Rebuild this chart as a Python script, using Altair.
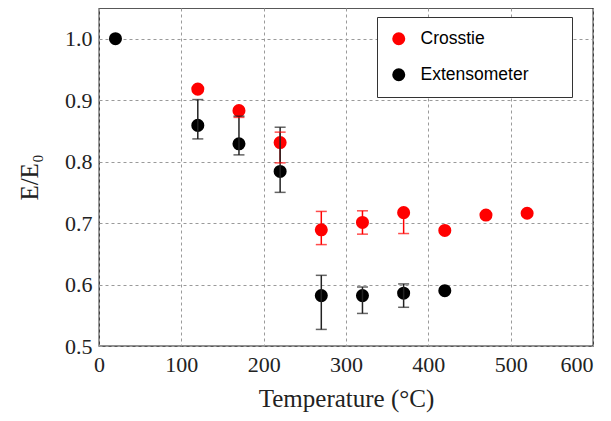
import altair as alt
import pandas as pd

# Extensometer series
ext_T = [20, 120, 170, 220, 270, 320, 370, 420]
ext_E = [1.000, 0.859, 0.829, 0.784, 0.582, 0.582, 0.586, 0.590]
ext_lo = [None, 0.837, 0.811, 0.750, 0.527, 0.553, 0.563, None]
ext_hi = [None, 0.901, 0.874, 0.856, 0.615, 0.596, 0.601, None]

# Crosstie series
cro_T = [120, 170, 220, 270, 320, 370, 420, 470, 520]
cro_E = [0.918, 0.883, 0.831, 0.689, 0.701, 0.717, 0.688, 0.713, 0.716]
cro_lo = [None, 0.872, 0.798, 0.665, 0.682, 0.683, None, None, None]
cro_hi = [None, 0.883, 0.848, 0.719, 0.720, 0.717, None, None, None]

series = ["Crosstie", "Extensometer"]
x_ticks = [0, 100, 200, 300, 400, 500, 600]
y_ticks = [0.5, 0.6, 0.7, 0.8, 0.9, 1.0]

rows = []
for t, e, lo, hi in zip(cro_T, cro_E, cro_lo, cro_hi):
    rows.append({"series": "Crosstie", "T": t, "E": e, "lo": lo, "hi": hi})
for t, e, lo, hi in zip(ext_T, ext_E, ext_lo, ext_hi):
    rows.append({"series": "Extensometer", "T": t, "E": e, "lo": lo, "hi": hi})
df = pd.DataFrame(rows)
err = df.dropna(subset=["lo"])

serif = "Liberation Serif"

xscale = alt.Scale(domain=[0, 600], nice=False)
yscale = alt.Scale(domain=[0.5, 1.05], nice=False, zero=False)
color = alt.Color(
    "series:N",
    scale=alt.Scale(domain=series, range=["#ff0000", "#000000"]),
    legend=alt.Legend(
        title=".",
        titleOrient="right",
        titleFontSize=2,
        titleOpacity=0,
        titlePadding=30,
        orient="none",
        legendX=278,
        legendY=9,
        fillColor="white",
        strokeColor="#333333",
        padding=13,
        symbolSize=170,
        symbolType="circle",
        symbolStrokeWidth=0,
        labelFont="Liberation Sans",
        labelFontSize=17.5,
        labelOffset=13,
        labelLimit=400,
        rowPadding=17,
    ),
)

x_enc = alt.X(
    "T:Q",
    scale=xscale,
    axis=alt.Axis(
        values=x_ticks,
        title="Temperature (°C)",
        format="d",
        labelFlush=False,
        labelAlign={"condition": {"test": "datum.value == 600", "value": "right"}, "value": "center"},
    ),
)
y_enc = alt.Y(
    "E:Q",
    scale=yscale,
    axis=alt.Axis(values=y_ticks, title="E/E₀", format=".1f", labelFlush=False),
)

points = alt.Chart(df).mark_circle(size=170, opacity=1).encode(
    x=x_enc, y=y_enc, color=color
)

err_color = alt.Color(
    "series:N",
    scale=alt.Scale(domain=series, range=["#ff0000", "#222222"]),
    legend=None,
)
bars = alt.Chart(err).mark_rule(strokeWidth=1.5).encode(
    x=alt.X("T:Q", scale=xscale),
    y=alt.Y("lo:Q", scale=yscale),
    y2="hi:Q",
    color=err_color,
)
cap_lo = alt.Chart(err).mark_tick(orient="horizontal", size=11, thickness=1.5).encode(
    x=alt.X("T:Q", scale=xscale),
    y=alt.Y("lo:Q", scale=yscale),
    color=err_color,
)
cap_hi = alt.Chart(err).mark_tick(orient="horizontal", size=11, thickness=1.5).encode(
    x=alt.X("T:Q", scale=xscale),
    y=alt.Y("hi:Q", scale=yscale),
    color=err_color,
)

chart = (
    alt.layer(points, bars, cap_lo, cap_hi)
    .resolve_scale(color="independent")
    .properties(
        width=494,
        height=338,
        autosize=alt.AutoSizeParams(type="none"),
        padding={"left": 91, "top": 0, "right": 10, "bottom": 67},
    )
    .configure_view(stroke="#222222", strokeWidth=1.3)
    .configure_axis(
        grid=True,
        gridColor="#9a9a9a",
        gridDash=[3, 3],
        gridWidth=1,
        domain=False,
        ticks=False,
        labelFont=serif,
        labelFontSize=22,
        labelColor="#222222",
        titleFont=serif,
        titleFontSize=25,
        titleFontWeight="normal",
        titleColor="#222222",
    )
    .configure_axisX(labelPadding=8, titlePadding=11)
    .configure_axisY(labelPadding=7, titlePadding=22)
)

chart.save("out.html", embed_options={"renderer": "svg", "actions": False})
